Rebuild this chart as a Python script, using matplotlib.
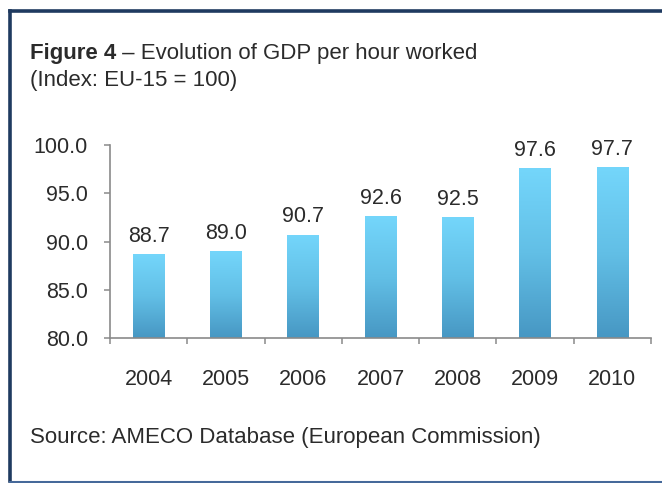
import numpy as np
import matplotlib
matplotlib.use("Agg")
import matplotlib.pyplot as plt
from matplotlib.colors import LinearSegmentedColormap
from matplotlib.lines import Line2D

plt.rcParams['font.family'] = ['Liberation Sans', 'DejaVu Sans']

years = ["2004", "2005", "2006", "2007", "2008", "2009", "2010"]
gdp_index = [88.7, 89.0, 90.7, 92.6, 92.5, 97.6, 97.7]
y_ticks = [80.0, 85.0, 90.0, 95.0, 100.0]

W, H = 662, 483
fig = plt.figure(figsize=(W / 100, H / 100), dpi=100)
fig.patch.set_facecolor("white")

def fx(px):
    return px / W

def fy(py):
    return (H - py) / H

# frame around the figure panel
frame_col = "#1f3a60"
fig.add_artist(Line2D([fx(9.5), fx(9.5)], [fy(11), fy(481)], color=frame_col, lw=2.6,
                      transform=fig.transFigure, solid_capstyle="projecting"))
fig.add_artist(Line2D([fx(9.5), 1.02], [fy(11), fy(11)], color=frame_col, lw=2.6,
                      transform=fig.transFigure, solid_capstyle="projecting"))
fig.add_artist(Line2D([fx(9.5), 1.02], [fy(481.5), fy(481.5)], color="#46699a", lw=2.2,
                      transform=fig.transFigure))

text_col = "#2b2b2b"
fs = 15.5
fs_head = 16

# heading: bold figure number followed by the regular title text
t1 = fig.text(fx(30), fy(59), "Figure 4", fontsize=fs_head, fontweight="bold",
              color=text_col, va="baseline", ha="left")
fig.text(fx(30), fy(86), "(Index: EU-15 = 100)", fontsize=fs_head, color=text_col,
         va="baseline", ha="left")
fig.text(fx(30), fy(443), "Source: AMECO Database (European Commission)", fontsize=fs_head,
         color=text_col, va="baseline", ha="left")

ax = fig.add_axes([fx(110), fy(338), fx(651) - fx(110), fy(145) - fy(338)])
ax.annotate(" \u2013 Evolution of GDP per hour worked", xy=(1, 0), xycoords=t1,
            fontsize=fs_head, color=text_col, va="bottom", ha="left", annotation_clip=False)

x = np.arange(len(years))
bars = ax.bar(x, gdp_index, width=0.41, bottom=0, color="none", edgecolor="none")

cmap = LinearSegmentedColormap.from_list("barfill", ["#4797c3", "#62bfe6", "#74d6fb"])
grad = np.linspace(0, 1, 256).reshape(-1, 1)
for rect in bars:
    x0 = rect.get_x()
    x1 = x0 + rect.get_width()
    top = rect.get_height()
    im = ax.imshow(grad, cmap=cmap, origin="lower", aspect="auto",
                   extent=(x0, x1, y_ticks[0], top), zorder=2, interpolation="bilinear")
    im.set_clip_path(rect)
    ax.annotate(f"{top:.1f}", xy=(rect.get_x() + rect.get_width() / 2, top),
                xytext=(0, 9), textcoords="offset points", ha="center", va="baseline",
                fontsize=fs, color=text_col, zorder=3)
ax.set_xlim(-0.5, len(years) - 0.5)
ax.set_ylim(y_ticks[0], y_ticks[-1])

axis_col = "#8a8a8a"
for side in ["top", "right"]:
    ax.spines[side].set_visible(False)
for side in ["left", "bottom"]:
    ax.spines[side].set_color(axis_col)
    ax.spines[side].set_linewidth(1.2)

ax.set_yticks(y_ticks)
ax.set_yticklabels([f"{v:.1f}" for v in y_ticks])
ax.tick_params(axis="y", direction="out", length=4, width=1.1, color=axis_col,
               labelsize=fs, labelcolor=text_col, pad=12)

ax.set_xticks(x)
ax.set_xticklabels(years)
ax.set_xticks(np.arange(len(years) + 1) - 0.5, minor=True)
ax.tick_params(axis="x", which="major", length=0, labelsize=fs, labelcolor=text_col, pad=22)
ax.tick_params(axis="x", which="minor", direction="out", length=4, width=1.1, color=axis_col)

ax.set_facecolor("none")

fig.savefig("out.png", dpi=100, facecolor="white")
